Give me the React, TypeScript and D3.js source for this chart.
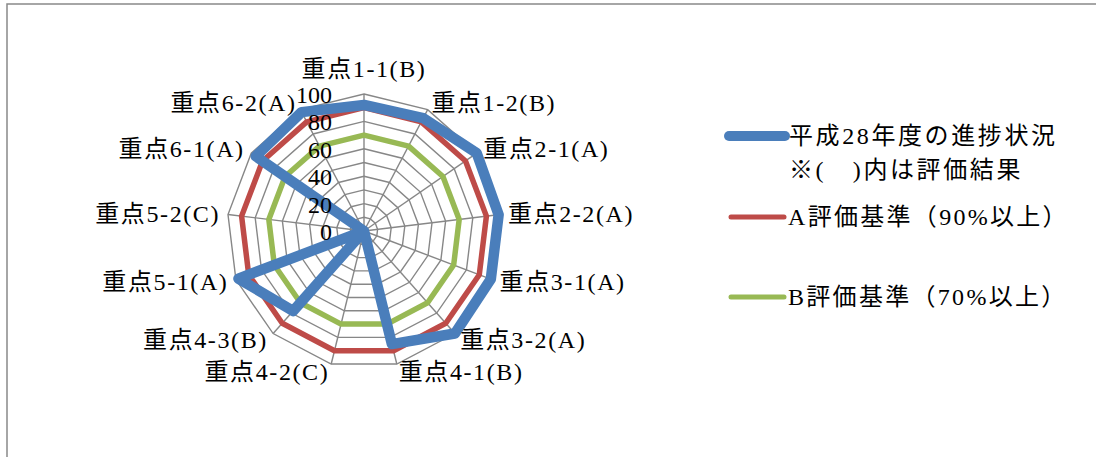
import React from 'react';
import * as d3 from 'd3';

const categories = [
  '重点1-1(B)', '重点1-2(B)', '重点2-1(A)', '重点2-2(A)', '重点3-1(A)', '重点3-2(A)',
  '重点4-1(B)', '重点4-2(C)', '重点4-3(B)', '重点5-1(A)', '重点5-2(C)', '重点6-1(A)', '重点6-2(A)',
];
const progress = [92, 93, 100, 99, 99, 100, 85, 0, 78, 98, 0, 96, 98];
const criteriaA = [90, 90, 90, 90, 90, 90, 90, 90, 90, 90, 90, 90, 90];
const criteriaB = [70, 70, 70, 70, 70, 70, 70, 70, 70, 70, 70, 70, 70];
const tickValues = [0, 20, 40, 60, 80, 100];
const gridValues = [10, 20, 30, 40, 50, 60, 70, 80, 90, 100];

const seriesNames = ['平成28年度の進捗状況', 'A評価基準（90%以上）', 'B評価基準（70%以上）'];
const seriesNote = '※(　)内は評価結果';

const W = 1096;
const H = 457;
const cx = 364;
const cy = 231;
const R = 137;

const FONT = '"Liberation Serif", "Noto Sans CJK JP", serif';

export default function App() {
  const n = categories.length;
  const r = d3.scaleLinear().domain([0, 100]).range([0, R]);
  const angle = d3.scaleLinear().domain([0, n]).range([0, 2 * Math.PI]);
  const idx = d3.range(n);

  const radial = (vals: number[]) =>
    d3
      .lineRadial<number>()
      .angle((_, i) => angle(i))
      .radius((v) => r(v))
      .curve(d3.curveLinearClosed)(vals) as string;

  const ring = (v: number) => radial(idx.map(() => v));

  const series = [
    { vals: progress, color: '#4A7EBB', width: 10.5 },
    { vals: criteriaA, color: '#BE4B48', width: 5.5 },
    { vals: criteriaB, color: '#98B954', width: 5.5 },
  ];

  const legend = [
    { y: 136, color: '#4A7EBB', width: 10, x1: 729, x2: 785 },
    { y: 217, color: '#BE4B48', width: 5, x1: 731, x2: 784 },
    { y: 297, color: '#98B954', width: 5, x1: 731, x2: 784 },
  ];

  return (
    <svg
      width={W}
      height={H}
      style={{ position: 'absolute', left: 0, top: 0, background: '#fff' }}
      fontFamily={FONT}
    >
      <rect x={7} y={4} width={1300} height={700} fill="#fff" stroke="#898989" strokeWidth={1.5} />
      <g transform={`translate(${cx},${cy})`}>
        {gridValues.map((g) => (
          <path key={g} d={ring(g)} fill="none" stroke="#878787" strokeWidth={1.4} />
        ))}
        {idx.map((i) => {
          const a = angle(i);
          return (
            <line
              key={i}
              x1={0}
              y1={0}
              x2={r(100) * Math.sin(a)}
              y2={-r(100) * Math.cos(a)}
              stroke="#878787"
              strokeWidth={1.4}
            />
          );
        })}
        {series
          .slice()
          .reverse()
          .map((s, k) => (
            <path
              key={k}
              d={radial(s.vals)}
              fill="none"
              stroke={s.color}
              strokeWidth={s.width}
              strokeLinejoin="round"
            />
          ))}
        {tickValues.map((t) => (
          <text
            key={t}
            x={-32}
            y={-r(t) + 1}
            textAnchor="end"
            dominantBaseline="central"
            fontSize={24}
            fill="#000"
          >
            {t}
          </text>
        ))}
        {categories.map((c, i) => {
          const a = angle(i);
          const rr = R + 8;
          const s = Math.sin(a);
          const x = rr * s;
          let y = -rr * Math.cos(a);
          let anchor = 'middle';
          if (s > 0.1) anchor = 'start';
          else if (s < -0.1) anchor = 'end';
          if (anchor === 'middle') y -= 17;
          return (
            <text
              key={c}
              x={x}
              y={y}
              textAnchor={anchor}
              dominantBaseline="central"
              fontSize={24}
              letterSpacing={1.6}
              fill="#000"
            >
              {c}
            </text>
          );
        })}
      </g>
      {legend.map((l, i) => (
        <line
          key={i}
          x1={l.x1}
          x2={l.x2}
          y1={l.y}
          y2={l.y}
          stroke={l.color}
          strokeWidth={l.width}
          strokeLinecap="round"
        />
      ))}
      <text x={789} y={136} dominantBaseline="central" fontSize={24} letterSpacing={2.6}>
        {seriesNames[0]}
      </text>
      <text x={789} y={170} dominantBaseline="central" fontSize={24} letterSpacing={2.6}>
        {seriesNote}
      </text>
      <text x={788} y={217} dominantBaseline="central" fontSize={24} letterSpacing={2.3}>
        {seriesNames[1]}
      </text>
      <text x={788} y={297} dominantBaseline="central" fontSize={24} letterSpacing={2.3}>
        {seriesNames[2]}
      </text>
    </svg>
  );
}
